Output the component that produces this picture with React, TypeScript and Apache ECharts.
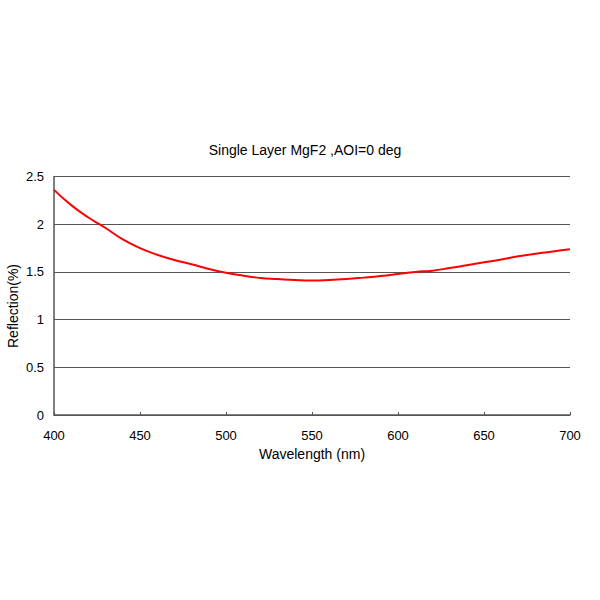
import React, { useEffect, useRef } from "react";
import * as echarts from "echarts";

const wavelengths = [400, 410, 420, 430, 440, 450, 460, 470, 480, 490, 500, 510, 520, 530, 540, 550, 560, 570, 580, 590, 600, 610, 620, 630, 640, 650, 660, 670, 680, 690, 700];
const reflection = [2.36, 2.2, 2.07, 1.96, 1.84, 1.75, 1.68, 1.625, 1.58, 1.53, 1.49, 1.46, 1.436, 1.425, 1.415, 1.41, 1.415, 1.425, 1.44, 1.457, 1.478, 1.5, 1.513, 1.54, 1.57, 1.6, 1.63, 1.665, 1.69, 1.715, 1.737];
const title = "Single Layer MgF2 ,AOI=0 deg";
const xName = "Wavelength (nm)";
const yName = "Reflection(%)";

export default function App() {
  const ref = useRef<HTMLDivElement>(null);
  useEffect(() => {
    if (!ref.current) return;
    const chart = echarts.init(ref.current, null, { renderer: "svg" });
    const font = "Liberation Sans, Arial, sans-serif";
    chart.setOption({
      animation: false,
      backgroundColor: "#ffffff",
      title: {
        text: title,
        left: 300,
        top: 138,
        textAlign: "center",
        textStyle: { fontFamily: font, fontSize: 14, fontWeight: "normal", color: "#000" },
      },
      graphic: [
        {
          type: "text",
          x: 13,
          y: 306,
          rotation: Math.PI / 2,
          style: {
            text: yName,
            fontFamily: font,
            fontSize: 14,
            fill: "#000",
            align: "center",
            verticalAlign: "middle",
          },
        },
      ],
      grid: { left: 54, right: 30, top: 176.5, bottom: 185, outerBoundsMode: "none", containLabel: false },
      xAxis: {
        type: "value",
        min: 400,
        max: 700,
        interval: 50,
        name: xName,
        nameLocation: "middle",
        nameGap: 32,
        nameTextStyle: { fontFamily: font, fontSize: 14, color: "#000" },
        axisLine: { show: true, lineStyle: { color: "#555", width: 1.5 } },
        axisTick: { show: true, inside: true, length: 3, lineStyle: { color: "#555" } },
        axisLabel: { fontFamily: font, fontSize: 13, color: "#000", margin: 14 },
        splitLine: { show: false },
      },
      yAxis: {
        type: "value",
        min: 0,
        max: 2.5,
        interval: 0.5,
        axisLine: { show: true, lineStyle: { color: "#555", width: 1.5 } },
        axisTick: { show: false },
        axisLabel: { fontFamily: font, fontSize: 13, color: "#000", margin: 10 },
        splitLine: { show: true, lineStyle: { color: "#555", width: 1.2 } },
      },
      series: [
        {
          type: "line",
          data: wavelengths.map((w, i) => [w, reflection[i]]),
          smooth: true,
          showSymbol: false,
          lineStyle: { color: "#ff0000", width: 2 },
        },
      ],
    });
    return () => chart.dispose();
  }, []);
  return (
    <div
      ref={ref}
      style={{ position: "fixed", left: 0, top: 0, width: 600, height: 600, background: "#fff" }}
    />
  );
}
